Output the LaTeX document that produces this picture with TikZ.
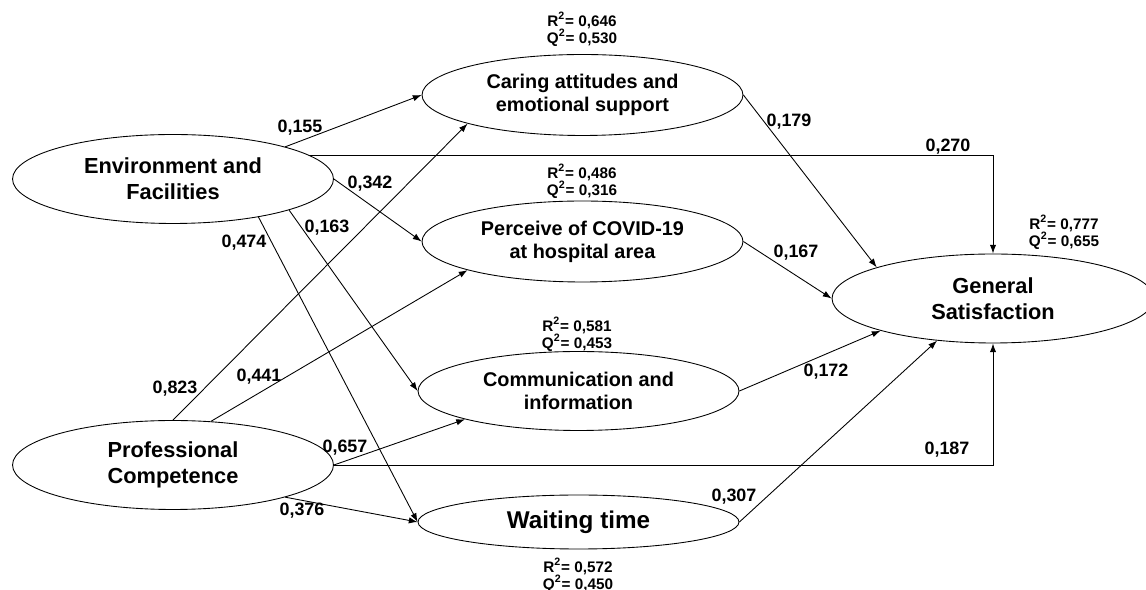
\documentclass[tikz,border=0pt]{standalone}
\usepackage{fontspec}
\setmainfont{Liberation Sans}
\usetikzlibrary{shapes.geometric,arrows.meta}
\begin{document}
\begin{tikzpicture}[x=0.02cm,y=-0.02cm,
  lat/.style={ellipse,draw,line width=0.5pt,inner sep=0pt,align=center,font=\bfseries},
  big/.style={lat,minimum width=6.42cm,minimum height=1.78cm,font=\fontsize{12.4}{14.7}\selectfont\bfseries},
  mid/.style={lat,minimum width=6.42cm,minimum height=1.62cm,font=\fontsize{11.3}{13}\selectfont\bfseries},
  wait/.style={lat,minimum width=6.42cm,minimum height=1.08cm,font=\fontsize{13.8}{15}\selectfont\bfseries},
  coef/.style={font=\fontsize{10.2}{12}\selectfont\bfseries,inner sep=0pt},
  rq/.style={font=\fontsize{8.7}{9.6}\selectfont\bfseries,align=center,inner sep=0pt},
  path/.style={line width=0.5pt,-{Latex[length=5pt,width=3.6pt]}}]
\useasboundingbox (0,0) rectangle (1146,590);
% latent variables
\node[big] (EF) at (173,179) {Environment and\\Facilities};
\node[big] (PC) at (173,465) {Professional\\Competence};
\node[mid] (CA) at (582.5,95) {Caring attitudes and\\emotional support};
\node[mid] (PV) at (582.5,241.5) {Perceive of COVID-19\\at hospital area};
\node[mid,minimum height=1.58cm] (CI) at (578.5,391) {Communication and\\information};
\node[wait] (WT) at (578.5,522) {Waiting time};
\node[big,minimum width=6.44cm] (GS) at (993,298.5) {General\\Satisfaction};
% R2 / Q2
\node[rq] (rqCA) at (582,29) {R\textsuperscript{2}= 0,646\\Q\textsuperscript{2}= 0,530};
\node[rq] (rqPV) at (582,181) {R\textsuperscript{2}= 0,486\\Q\textsuperscript{2}= 0,316};
\node[rq] (rqCI) at (577,334) {R\textsuperscript{2}= 0,581\\Q\textsuperscript{2}= 0,453};
\node[rq] (rqWT) at (578,575) {R\textsuperscript{2}= 0,572\\Q\textsuperscript{2}= 0,450};
\node[rq] (rqGS) at (1064,232) {R\textsuperscript{2}= 0,777\\Q\textsuperscript{2}= 0,655};
% paths
\draw[path] (EF.16) -- (CA.west);
\draw[path] (EF.10) -| (GS.north);
\draw[path] (EF.east) -- (PV.west);
\draw[path] (EF.-15) -- (CI.west);
\draw[path] (EF.-24) -- (WT.west);
\draw[path] (PC.north) -- (CA.194);
\draw[path] (PC.49) -- (PV.194);
\draw[path] (PC.east) -- (CI.194);
\draw[path] (PC.east) -| (GS.south);
\draw[path] (PC.-16) -- (WT.west);
\draw[path] (CA.east) -- (GS.165);
\draw[path] (PV.east) -- (GS.west);
\draw[path] (CI.east) -- (GS.196);
\draw[path] (WT.east) -- (GS.217);
% coefficients
\node[coef] (c155) at (300,128) {0,155};
\node[coef] (c270) at (948,147) {0,270};
\node[coef] (c342) at (370,184) {0,342};
\node[coef] (c163) at (327,228) {0,163};
\node[coef] (c474) at (244,243) {0,474};
\node[coef] (c823) at (175,389) {0,823};
\node[coef] (c441) at (259,377) {0,441};
\node[coef] (c657) at (345,448) {0,657};
\node[coef] (c187) at (947,450) {0,187};
\node[coef] (c376) at (302,511) {0,376};
\node[coef] (c179) at (789,122) {0,179};
\node[coef] (c167) at (796,253) {0,167};
\node[coef] (c172) at (826,372) {0,172};
\node[coef] (c307) at (734,497) {0,307};
\end{tikzpicture}
\end{document}
